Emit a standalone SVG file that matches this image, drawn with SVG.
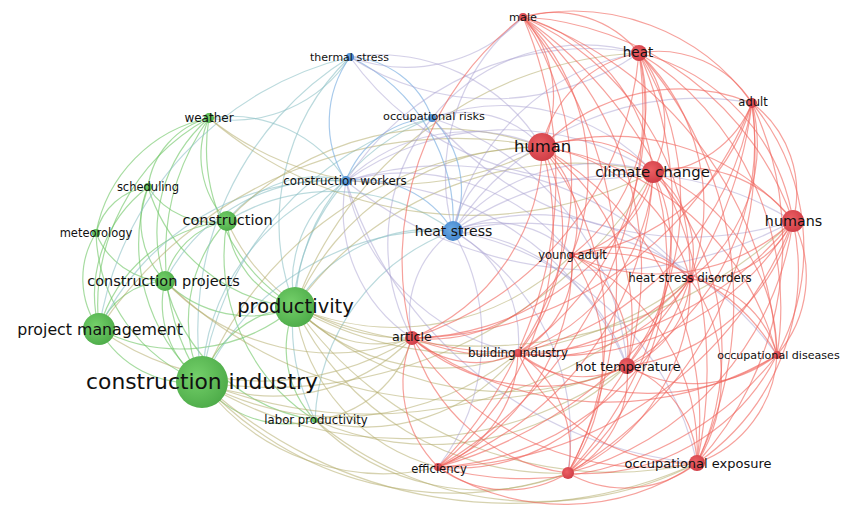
<svg xmlns="http://www.w3.org/2000/svg" width="850" height="519" viewBox="0 0 850 519">
<style>
.e path{fill:none;stroke-width:1.2}
.r path{stroke:#f0625a;stroke-opacity:.6}
.b path{stroke:#7aaee0;stroke-opacity:.65}
.br path{stroke:#a9a2d2;stroke-opacity:.5}
.gb path{stroke:#8ec2c6;stroke-opacity:.6}
.g path{stroke:#6cc462;stroke-opacity:.6}
.gr path{stroke:#b5ad6e;stroke-opacity:.55}
.ng{fill:url(#gg)}
.nr{fill:url(#gred)}
.nb{fill:url(#gb)}
text{font-family:"DejaVu Sans","Liberation Sans",sans-serif;fill:#111;text-anchor:middle;dominant-baseline:central}
</style>
<defs>
<radialGradient id="gg" cx="0.4" cy="0.4" r="0.7"><stop offset="0" stop-color="#74d06a"/><stop offset="1" stop-color="#4aa846"/></radialGradient>
<radialGradient id="gred" cx="0.4" cy="0.4" r="0.7"><stop offset="0" stop-color="#ec5f64"/><stop offset="1" stop-color="#cc3a43"/></radialGradient>
<radialGradient id="gb" cx="0.4" cy="0.4" r="0.7"><stop offset="0" stop-color="#6aaae6"/><stop offset="1" stop-color="#3e7fc6"/></radialGradient>
</defs>
<rect width="850" height="519" fill="#fff"/>
<g id="connectors" class="e">
<g class="g">
<path d="M202 382A107 107 0 0 1 295 307"/><path d="M202 382A104 104 0 0 1 99 329"/><path d="M202 382A97 97 0 0 1 165 281"/><path d="M202 382A147 147 0 0 1 227 221"/><path d="M202 382A238 238 0 0 1 209 118"/><path d="M202 382A182 182 0 0 1 148 187"/><path d="M202 382A165 165 0 0 1 96 233"/><path d="M315 420A107 107 0 0 1 202 382"/><path d="M295 307A177 177 0 0 1 99 329"/><path d="M295 307A120 120 0 0 1 165 281"/><path d="M295 307A99 99 0 0 1 227 221"/><path d="M295 307A187 187 0 0 1 209 118"/><path d="M315 420A103 103 0 0 1 295 307"/><path d="M295 307A171 171 0 0 1 148 187"/><path d="M99 329A74 74 0 0 1 165 281"/><path d="M99 329A150 150 0 0 1 227 221"/><path d="M99 329A135 135 0 0 1 148 187"/><path d="M99 329A214 214 0 0 1 209 118"/><path d="M99 329A86 86 0 0 1 96 233"/><path d="M165 281A78 78 0 0 1 227 221"/><path d="M165 281A86 86 0 0 1 148 187"/><path d="M165 281A152 152 0 0 1 209 118"/><path d="M165 281A76 76 0 0 1 96 233"/><path d="M227 221A94 94 0 0 1 209 118"/><path d="M227 221A77 77 0 0 1 148 187"/><path d="M148 187A83 83 0 0 1 209 118"/><path d="M96 233A145 145 0 0 1 209 118"/><path d="M96 233A62 62 0 0 1 148 187"/><path d="M315 420A196 196 0 0 1 227 221"/><path d="M315 420A184 184 0 0 1 165 281"/>
</g>
<g class="gb">
<path d="M202 382A321 321 0 0 1 350 57"/><path d="M202 382A222 222 0 0 1 346 181"/><path d="M202 382A264 264 0 0 1 453 231"/><path d="M202 382A315 315 0 0 1 432 118"/><path d="M295 307A122 122 0 0 1 346 181"/><path d="M295 307A158 158 0 0 1 453 231"/><path d="M295 307A230 230 0 0 1 350 57"/><path d="M295 307A210 210 0 0 1 432 118"/><path d="M209 118A136 136 0 0 1 346 181"/><path d="M209 118A139 139 0 0 0 350 57"/><path d="M227 221A113 113 0 0 1 346 181"/><path d="M227 221A203 203 0 0 1 453 231"/><path d="M315 420A211 211 0 0 1 453 231"/><path d="M315 420A217 217 0 0 1 346 181"/><path d="M99 329A259 259 0 0 1 346 181"/><path d="M165 281A186 186 0 0 1 346 181"/><path d="M99 329A333 333 0 0 1 350 57"/>
</g>
<g class="gr">
<path d="M412 338A193 193 0 0 1 202 382"/><path d="M438 467A226 226 0 0 1 202 382"/><path d="M568 473A339 339 0 0 1 202 382"/><path d="M697 463A452 452 0 0 1 202 382"/><path d="M518 353A285 285 0 0 1 202 382"/><path d="M627 366A383 383 0 0 1 202 382"/><path d="M202 382A372 372 0 0 1 542 147"/><path d="M653 172A447 447 0 0 1 202 382"/><path d="M690 279A449 449 0 0 1 202 382"/><path d="M412 338A109 109 0 0 1 295 307"/><path d="M518 353A205 205 0 0 1 295 307"/><path d="M627 366A303 303 0 0 1 295 307"/><path d="M295 307A265 265 0 0 1 542 147"/><path d="M295 307A345 345 0 0 1 653 172"/><path d="M295 307A385 385 0 0 1 639 53"/><path d="M438 467A193 193 0 0 1 295 307"/><path d="M697 463A388 388 0 0 1 295 307"/><path d="M793 221A455 455 0 0 1 295 307"/><path d="M572 255A254 254 0 0 1 295 307"/><path d="M690 279A356 356 0 0 1 295 307"/><path d="M568 473A288 288 0 0 1 295 307"/><path d="M412 338A114 114 0 0 1 315 420"/><path d="M627 366A285 285 0 0 1 315 420"/><path d="M568 473A232 232 0 0 1 315 420"/><path d="M697 463A346 346 0 0 1 315 420"/><path d="M518 353A193 193 0 0 1 315 420"/><path d="M412 338A282 282 0 0 1 99 329"/><path d="M99 329A431 431 0 0 1 542 147"/><path d="M227 221A292 292 0 0 1 542 147"/><path d="M209 118A301 301 0 0 0 542 147"/><path d="M412 338A228 228 0 0 1 165 281"/><path d="M627 366A423 423 0 0 1 165 281"/><path d="M412 338A197 197 0 0 1 227 221"/><path d="M209 118A402 402 0 0 0 653 172"/>
</g>
<g class="b">
<path d="M350 57A92 92 0 0 1 432 118"/><path d="M346 181A112 112 0 0 1 350 57"/><path d="M350 57A182 182 0 0 1 453 231"/><path d="M346 181A96 96 0 0 1 432 118"/><path d="M432 118A103 103 0 0 1 453 231"/><path d="M346 181A106 106 0 0 1 453 231"/>
</g>
<g class="br">
<path d="M350 57A260 260 0 0 0 639 53"/><path d="M350 57A191 191 0 0 1 542 147"/><path d="M350 57A292 292 0 0 0 653 172"/><path d="M350 57A160 160 0 0 0 523 17"/><path d="M432 118A103 103 0 0 1 542 147"/><path d="M432 118A195 195 0 0 1 639 53"/><path d="M432 118A205 205 0 0 1 653 172"/><path d="M412 338A199 199 0 0 1 432 118"/><path d="M432 118A284 284 0 0 1 627 366"/><path d="M432 118A338 338 0 0 0 793 221"/><path d="M346 181A179 179 0 0 1 542 147"/><path d="M346 181A276 276 0 0 1 653 172"/><path d="M346 181A288 288 0 0 1 639 53"/><path d="M412 338A153 153 0 0 1 346 181"/><path d="M518 353A219 219 0 0 1 346 181"/><path d="M346 181A303 303 0 0 1 627 366"/><path d="M697 463A405 405 0 0 1 346 181"/><path d="M346 181A214 214 0 0 1 572 255"/><path d="M346 181A404 404 0 0 0 793 221"/><path d="M346 181A322 322 0 0 1 690 279"/><path d="M453 231A110 110 0 0 1 542 147"/><path d="M453 231A231 231 0 0 1 639 53"/><path d="M453 231A188 188 0 0 1 653 172"/><path d="M453 231A306 306 0 0 1 793 221"/><path d="M412 338A103 103 0 0 1 453 231"/><path d="M453 231A124 124 0 0 1 518 353"/><path d="M453 231A198 198 0 0 1 627 366"/><path d="M453 231A303 303 0 0 1 697 463"/><path d="M453 231A241 241 0 0 1 568 473"/><path d="M453 231A109 109 0 0 1 572 255"/><path d="M453 231A218 218 0 0 1 690 279"/><path d="M453 231A203 203 0 0 1 523 17"/><path d="M453 231A212 212 0 0 1 438 467"/><path d="M453 231A293 293 0 0 1 752 103"/><path d="M453 231A312 312 0 0 1 777 355"/>
</g>
<g class="r">
<path d="M523 17A109 109 0 0 1 639 53"/><path d="M523 17A220 220 0 0 1 752 103"/><path d="M523 17A118 118 0 0 1 542 147"/><path d="M523 17A182 182 0 0 1 653 172"/><path d="M523 17A304 304 0 0 1 793 221"/><path d="M523 17A219 219 0 0 1 572 255"/><path d="M523 17A280 280 0 0 1 690 279"/><path d="M412 338A306 306 0 0 1 523 17"/><path d="M523 17A302 302 0 0 1 518 353"/><path d="M523 17A328 328 0 0 1 627 366"/><path d="M523 17A380 380 0 0 1 777 355"/><path d="M523 17A412 412 0 0 1 438 467"/><path d="M523 17A412 412 0 0 1 568 473"/><path d="M523 17A431 431 0 0 1 697 463"/>
<path d="M639 53A111 111 0 0 1 752 103"/><path d="M542 147A122 122 0 0 1 639 53"/><path d="M639 53A108 108 0 0 1 653 172"/><path d="M639 53A205 205 0 0 1 793 221"/><path d="M639 53A192 192 0 0 1 572 255"/><path d="M639 53A209 209 0 0 1 690 279"/><path d="M639 53A328 328 0 0 1 412 338"/><path d="M639 53A291 291 0 0 1 518 353"/><path d="M639 53A282 282 0 0 1 627 366"/><path d="M639 53A299 299 0 0 1 777 355"/><path d="M639 53A414 414 0 0 1 438 467"/><path d="M639 53A383 383 0 0 1 568 473"/><path d="M639 53A373 373 0 0 1 697 463"/>
<path d="M542 147A193 193 0 0 1 752 103"/><path d="M752 103A109 109 0 0 1 653 172"/><path d="M752 103A112 112 0 0 1 793 221"/><path d="M752 103A212 212 0 0 1 572 255"/><path d="M752 103A168 168 0 0 1 690 279"/><path d="M752 103A372 372 0 0 1 412 338"/><path d="M752 103A308 308 0 0 1 518 353"/><path d="M752 103A262 262 0 0 1 627 366"/><path d="M752 103A228 228 0 0 1 777 355"/><path d="M752 103A433 433 0 0 1 438 467"/><path d="M752 103A372 372 0 0 1 568 473"/><path d="M752 103A328 328 0 0 1 697 463"/>
<path d="M542 147A103 103 0 0 1 653 172"/><path d="M542 147A236 236 0 0 1 793 221"/><path d="M542 147A101 101 0 0 1 572 255"/><path d="M542 147A178 178 0 0 1 690 279"/><path d="M542 147A208 208 0 0 1 412 338"/><path d="M542 147A186 186 0 0 1 518 353"/><path d="M542 147A211 211 0 0 1 627 366"/><path d="M542 147A283 283 0 0 1 777 355"/><path d="M542 147A303 303 0 0 1 438 467"/><path d="M542 147A294 294 0 0 1 568 473"/><path d="M542 147A317 317 0 0 1 697 463"/>
<path d="M653 172A133 133 0 0 1 793 221"/><path d="M653 172A104 104 0 0 1 572 255"/><path d="M653 172A102 102 0 0 1 690 279"/><path d="M653 172A263 263 0 0 1 412 338"/><path d="M653 172A203 203 0 0 1 518 353"/><path d="M653 172A176 176 0 0 1 627 366"/><path d="M653 172A199 199 0 0 1 777 355"/><path d="M653 172A328 328 0 0 1 438 467"/><path d="M653 172A281 281 0 0 1 568 473"/><path d="M653 172A265 265 0 0 1 697 463"/>
<path d="M793 221A201 201 0 0 1 572 255"/><path d="M793 221A106 106 0 0 1 690 279"/><path d="M793 221A359 359 0 0 1 412 338"/><path d="M793 221A274 274 0 0 1 518 353"/><path d="M793 221A198 198 0 0 1 627 366"/><path d="M793 221A121 121 0 0 1 777 355"/><path d="M793 221A389 389 0 0 1 438 467"/><path d="M793 221A304 304 0 0 1 568 473"/><path d="M793 221A234 234 0 0 1 697 463"/>
<path d="M572 255A108 108 0 0 1 690 279"/><path d="M572 255A162 162 0 0 1 412 338"/><path d="M572 255A101 101 0 0 1 518 353"/><path d="M572 255A111 111 0 0 1 627 366"/><path d="M572 255A205 205 0 0 1 777 355"/><path d="M572 255A226 226 0 0 1 438 467"/><path d="M572 255A218 218 0 0 1 697 463"/><path d="M572 255A196 196 0 0 1 568 473"/>
<path d="M690 279A256 256 0 0 1 412 338"/><path d="M690 279A168 168 0 0 1 518 353"/><path d="M690 279A97 97 0 0 1 627 366"/><path d="M690 279A104 104 0 0 1 777 355"/><path d="M690 279A283 283 0 0 1 438 467"/><path d="M690 279A206 206 0 0 1 568 473"/><path d="M690 279A166 166 0 0 1 697 463"/>
<path d="M518 353A96 96 0 0 1 412 338"/><path d="M627 366A195 195 0 0 1 412 338"/><path d="M777 355A329 329 0 0 1 412 338"/><path d="M438 467A118 118 0 0 1 412 338"/><path d="M568 473A186 186 0 0 1 412 338"/><path d="M697 463A280 280 0 0 1 412 338"/>
<path d="M627 366A99 99 0 0 1 518 353"/><path d="M777 355A233 233 0 0 1 518 353"/><path d="M518 353A125 125 0 0 1 438 467"/><path d="M518 353A117 117 0 0 1 568 473"/><path d="M697 463A189 189 0 0 1 518 353"/>
<path d="M777 355A135 135 0 0 1 627 366"/><path d="M627 366A193 193 0 0 1 438 467"/><path d="M627 366A110 110 0 0 1 568 473"/><path d="M627 366A108 108 0 0 1 697 463"/>
<path d="M777 355A321 321 0 0 1 438 467"/><path d="M777 355A216 216 0 0 1 568 473"/><path d="M777 355A121 121 0 0 1 697 463"/>
<path d="M568 473A117 117 0 0 1 438 467"/><path d="M697 463A233 233 0 0 1 438 467"/><path d="M697 463A116 116 0 0 1 568 473"/>
</g>
</g>
<g id="n-weather"><circle class="ng" cx="209" cy="118" r="5"/><text x="209" y="118" font-size="12">weather</text></g>
<g id="n-scheduling"><circle class="ng" cx="148" cy="187" r="4"/><text x="148" y="187" font-size="11.5">scheduling</text></g>
<g id="n-meteorology"><circle class="ng" cx="96" cy="233" r="4"/><text x="96" y="233" font-size="11.5">meteorology</text></g>
<g id="n-construction"><circle class="ng" cx="227" cy="221" r="10"/><text x="227.5" y="220" font-size="14.5">construction</text></g>
<g id="n-construction-projects"><circle class="ng" cx="165" cy="281" r="10"/><text x="163.5" y="281" font-size="14.5">construction projects</text></g>
<g id="n-project-management"><circle class="ng" cx="99" cy="329" r="16"/><text x="100" y="329" font-size="15.8">project management</text></g>
<g id="n-productivity"><circle class="ng" cx="295" cy="307" r="20"/><text x="295.5" y="306" font-size="19.5">productivity</text></g>
<g id="n-construction-industry"><circle class="ng" cx="202" cy="382" r="26"/><text x="202" y="381" font-size="21.8">construction industry</text></g>
<g id="n-labor-productivity"><circle class="ng" cx="315" cy="420" r="3"/><text x="316" y="420" font-size="11.7">labor productivity</text></g>
<g id="n-thermal-stress"><circle class="nb" cx="350" cy="57" r="4"/><text x="349.5" y="57" font-size="11">thermal stress</text></g>
<g id="n-occupational-risks"><circle class="nb" cx="432" cy="118" r="4"/><text x="434" y="116" font-size="11.3">occupational risks</text></g>
<g id="n-construction-workers"><circle class="nb" cx="346" cy="181" r="5"/><text x="345" y="181" font-size="11.8">construction workers</text></g>
<g id="n-heat-stress"><circle class="nb" cx="453" cy="231" r="10"/><text x="453.5" y="231" font-size="14">heat stress</text></g>
<g id="n-male"><circle class="nr" cx="523" cy="17" r="4"/><text x="523" y="17" font-size="11.3">male</text></g>
<g id="n-heat"><circle class="nr" cx="639" cy="53" r="8"/><text x="638" y="52" font-size="13.5">heat</text></g>
<g id="n-adult"><circle class="nr" cx="752" cy="103" r="5"/><text x="753" y="102" font-size="11.5">adult</text></g>
<g id="n-human"><circle class="nr" cx="542" cy="147" r="14"/><text x="542.5" y="146" font-size="16.4">human</text></g>
<g id="n-climate-change"><circle class="nr" cx="653" cy="172" r="11"/><text x="652.5" y="172" font-size="14.9">climate change</text></g>
<g id="n-humans"><circle class="nr" cx="793" cy="221" r="11"/><text x="793.5" y="221" font-size="14.3">humans</text></g>
<g id="n-young-adult"><circle class="nr" cx="572" cy="255" r="3"/><text x="572.5" y="255" font-size="11.5">young adult</text></g>
<g id="n-heat-stress-disorders"><circle class="nr" cx="690" cy="279" r="4"/><text x="690" y="278" font-size="11.8">heat stress disorders</text></g>
<g id="n-article"><circle class="nr" cx="412" cy="338" r="7"/><text x="412" y="336" font-size="12.7">article</text></g>
<g id="n-building-industry"><circle class="nr" cx="518" cy="353" r="4"/><text x="518" y="353" font-size="11.9">building industry</text></g>
<g id="n-hot-temperature"><circle class="nr" cx="627" cy="366" r="8"/><text x="628" y="366" font-size="12.8">hot temperature</text></g>
<g id="n-occupational-diseases"><circle class="nr" cx="777" cy="355" r="4"/><text x="778.5" y="355" font-size="11.1">occupational diseases</text></g>
<g id="n-efficiency"><circle class="nr" cx="438" cy="467" r="4"/><text x="439" y="469" font-size="11.6">efficiency</text></g>
<g id="n-unlabeled"><circle class="nr" cx="568" cy="473" r="6"/></g>
<g id="n-occupational-exposure"><circle class="nr" cx="697" cy="463" r="8"/><text x="698" y="463" font-size="13">occupational exposure</text></g>
</svg>
